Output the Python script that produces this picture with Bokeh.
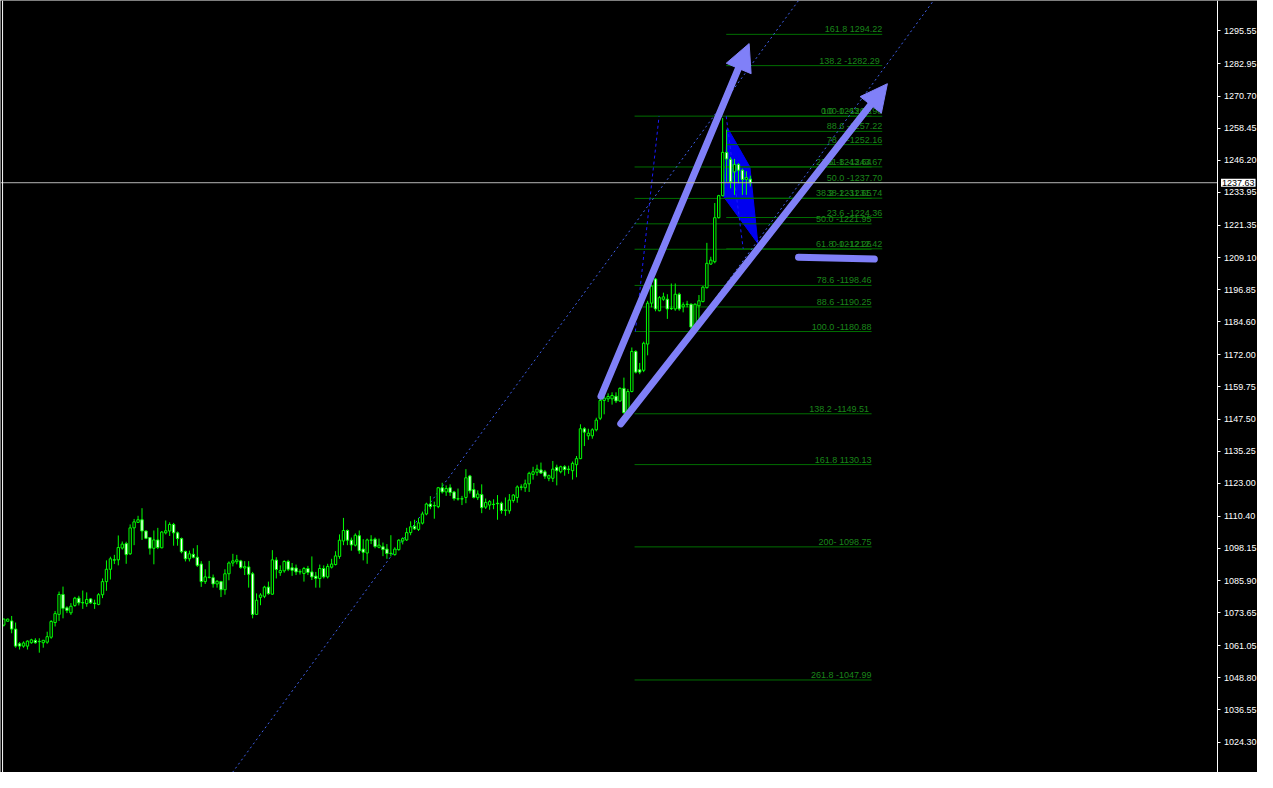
from bokeh.plotting import figure
from bokeh.models import (Range1d, FixedTicker, NumeralTickFormatter, Span, Label,
                          Arrow, NormalHead, ColumnDataSource)
from bokeh.core.properties import value
from bokeh.embed import file_html
from bokeh.resources import INLINE

# ---------------- price bars (OHLC) ----------------
open_ = [1068.9, 1070.4, 1070.5, 1067.4, 1061.8, 1060.9, 1060.9, 1062.2, 1063.1, 1062.7,
         1062.2, 1062.4, 1064.3, 1069.9, 1073.0, 1080.6, 1075.5, 1073.6, 1076.4, 1079.2,
         1077.5, 1077.1, 1078.9, 1077.3, 1076.8, 1080.5, 1085.5, 1090.2, 1093.8, 1093.8,
         1098.3, 1100.0, 1096.1, 1106.0, 1108.1, 1109.1, 1104.8, 1102.3, 1098.2, 1101.4,
         1098.4, 1104.1, 1104.8, 1107.3, 1104.1, 1101.9, 1097.0, 1094.2, 1095.9, 1094.8,
         1092.2, 1085.5, 1087.2, 1087.0, 1084.6, 1085.5, 1082.4, 1088.5, 1092.6, 1093.1,
         1093.4, 1090.7, 1091.1, 1088.5, 1073.0, 1079.5, 1079.9, 1083.4, 1080.7, 1093.7,
         1088.9, 1089.6, 1093.2, 1090.8, 1090.7, 1089.3, 1088.6, 1090.5, 1089.2, 1087.6,
         1086.7, 1090.5, 1087.3, 1091.0, 1092.0, 1095.1, 1101.0, 1105.0, 1101.3, 1099.4,
         1103.0, 1097.9, 1096.4, 1101.4, 1101.7, 1098.6, 1098.8, 1097.9, 1096.3, 1095.8,
         1097.7, 1101.0, 1101.4, 1104.2, 1106.6, 1105.4, 1107.8, 1111.3, 1115.1, 1114.5,
         1114.1, 1121.3, 1119.7, 1121.3, 1119.7, 1117.1, 1117.1, 1117.6, 1125.8, 1120.6,
         1117.5, 1118.7, 1113.9, 1114.7, 1115.0, 1115.4, 1115.4, 1112.8, 1112.5, 1116.4,
         1117.6, 1121.6, 1121.3, 1122.8, 1126.4, 1127.2, 1128.1, 1127.4, 1124.9, 1124.9,
         1129.1, 1127.4, 1129.3, 1128.4, 1127.8, 1130.1, 1132.4, 1143.8, 1141.1, 1141.1,
         1143.4, 1147.8, 1154.6, 1155.2, 1155.2, 1156.2, 1154.4, 1159.2, 1149.9, 1158.0,
         1173.3, 1166.3, 1166.1, 1176.1, 1191.7, 1200.9, 1188.8, 1193.2, 1193.2, 1189.7,
         1189.5, 1195.1, 1190.3, 1191.3, 1191.3, 1183.2, 1190.7, 1192.3, 1197.6, 1206.6,
         1207.5, 1224.3, 1232.7, 1249.2, 1246.5, 1241.8, 1244.6, 1242.4, 1238.9, 1239.0]

high = [1071.4, 1071.4, 1072.4, 1069.9, 1062.4, 1062.7, 1063.1, 1063.7, 1063.9, 1063.9,
        1063.3, 1066.4, 1070.8, 1074.3, 1081.7, 1083.6, 1076.1, 1077.3, 1079.7, 1080.1,
        1082.1, 1081.4, 1079.2, 1078.6, 1081.1, 1086.7, 1093.6, 1095.0, 1095.7, 1103.1,
        1100.8, 1100.7, 1107.3, 1109.4, 1110.6, 1113.5, 1105.0, 1102.5, 1105.0, 1106.0,
        1104.8, 1108.8, 1108.1, 1107.9, 1104.6, 1102.3, 1097.3, 1097.3, 1098.2, 1099.4,
        1093.3, 1090.2, 1093.4, 1088.2, 1086.1, 1085.8, 1090.2, 1093.2, 1096.1, 1095.7,
        1093.8, 1093.3, 1093.3, 1089.2, 1081.0, 1081.1, 1083.9, 1085.5, 1097.5, 1094.8,
        1091.7, 1093.6, 1093.8, 1092.6, 1092.0, 1090.2, 1091.1, 1091.5, 1095.1, 1089.2,
        1092.0, 1091.7, 1092.3, 1094.2, 1097.1, 1103.5, 1109.8, 1105.4, 1102.3, 1103.9,
        1105.0, 1101.7, 1101.9, 1103.2, 1102.3, 1101.9, 1100.4, 1099.8, 1103.2, 1098.6,
        1101.7, 1102.4, 1106.0, 1108.5, 1109.1, 1109.8, 1112.2, 1115.6, 1118.1, 1116.0,
        1121.6, 1123.2, 1122.2, 1122.6, 1120.1, 1121.0, 1118.2, 1128.4, 1126.2, 1123.1,
        1120.3, 1122.6, 1117.2, 1116.6, 1116.9, 1118.5, 1116.0, 1117.6, 1118.9, 1118.9,
        1122.2, 1122.6, 1124.4, 1127.4, 1129.3, 1130.1, 1130.9, 1128.1, 1126.3, 1131.5,
        1130.1, 1129.7, 1129.9, 1129.7, 1131.3, 1133.4, 1145.5, 1144.4, 1143.8, 1144.0,
        1148.0, 1156.5, 1157.7, 1157.3, 1157.7, 1157.7, 1159.6, 1163.3, 1159.0, 1174.8,
        1173.7, 1168.9, 1177.0, 1192.6, 1198.8, 1201.3, 1194.4, 1195.7, 1195.1, 1199.2,
        1199.2, 1195.7, 1192.0, 1192.6, 1191.6, 1191.6, 1194.8, 1198.2, 1214.7, 1209.4,
        1229.9, 1233.0, 1262.3, 1257.9, 1247.4, 1246.7, 1245.1, 1243.0, 1242.0, 1240.3]

low = [1068.4, 1070.2, 1065.8, 1060.3, 1059.6, 1060.3, 1059.6, 1061.8, 1061.8, 1058.4,
       1060.3, 1061.8, 1063.7, 1068.4, 1070.5, 1071.5, 1073.5, 1072.8, 1075.9, 1076.4,
       1075.1, 1075.9, 1077.0, 1075.1, 1076.5, 1079.2, 1082.0, 1086.3, 1092.2, 1091.7,
       1097.7, 1092.3, 1095.7, 1099.4, 1107.9, 1101.4, 1101.7, 1095.8, 1092.1, 1097.9,
       1098.2, 1103.5, 1102.9, 1099.2, 1099.2, 1096.3, 1093.2, 1093.2, 1094.4, 1091.1,
       1083.5, 1084.6, 1086.7, 1083.2, 1083.2, 1079.6, 1080.5, 1086.0, 1091.3, 1092.1,
       1090.4, 1088.0, 1083.2, 1071.5, 1072.8, 1076.5, 1079.2, 1080.5, 1080.5, 1086.7,
       1087.7, 1088.9, 1089.5, 1087.7, 1088.0, 1088.2, 1085.5, 1088.0, 1086.1, 1083.2,
       1083.2, 1086.7, 1086.7, 1090.5, 1091.7, 1094.2, 1099.4, 1099.4, 1097.3, 1098.9,
       1096.1, 1093.6, 1092.3, 1099.8, 1098.2, 1098.2, 1095.2, 1094.2, 1095.1, 1095.4,
       1097.3, 1099.7, 1101.0, 1103.2, 1105.2, 1104.8, 1107.3, 1110.8, 1113.1, 1109.5,
       1113.5, 1119.1, 1118.2, 1118.2, 1116.4, 1116.4, 1114.7, 1115.4, 1119.1, 1117.2,
       1116.6, 1111.6, 1113.2, 1112.9, 1113.1, 1109.1, 1111.4, 1110.6, 1111.4, 1115.6,
       1115.6, 1120.3, 1119.7, 1119.7, 1124.4, 1125.9, 1126.6, 1124.7, 1123.8, 1123.5,
       1122.2, 1126.8, 1125.9, 1126.6, 1124.4, 1125.3, 1132.2, 1137.2, 1139.6, 1140.0,
       1142.8, 1147.1, 1149.3, 1154.0, 1153.0, 1153.6, 1154.0, 1149.6, 1149.6, 1157.7,
       1164.9, 1164.6, 1165.4, 1171.8, 1190.1, 1188.6, 1188.6, 1192.6, 1185.7, 1189.1,
       1188.8, 1188.8, 1188.2, 1190.1, 1181.4, 1182.0, 1185.7, 1192.0, 1197.3, 1206.3,
       1206.9, 1224.0, 1232.4, 1238.0, 1235.5, 1233.0, 1237.4, 1233.0, 1233.0, 1236.2]

close = [1071.2, 1071.2, 1067.4, 1060.9, 1060.9, 1062.1, 1062.8, 1063.3, 1062.2, 1062.6,
         1063.1, 1064.5, 1070.3, 1073.3, 1080.6, 1075.3, 1074.5, 1076.1, 1079.2, 1077.4,
         1077.4, 1078.7, 1077.4, 1077.1, 1080.5, 1085.5, 1090.2, 1094.2, 1093.7, 1098.5,
         1099.8, 1095.8, 1106.0, 1108.3, 1109.1, 1104.8, 1102.0, 1098.2, 1101.4, 1098.5,
         1104.4, 1104.9, 1107.3, 1104.1, 1101.9, 1096.9, 1094.2, 1096.1, 1094.8, 1091.7,
         1085.5, 1087.3, 1087.1, 1084.6, 1085.6, 1082.4, 1088.5, 1092.6, 1093.4, 1093.8,
         1090.9, 1091.2, 1088.3, 1073.0, 1078.4, 1080.4, 1083.4, 1080.9, 1093.8, 1090.1,
         1089.7, 1093.2, 1090.2, 1089.8, 1089.2, 1089.2, 1090.5, 1089.0, 1087.3, 1086.7,
         1090.5, 1087.3, 1091.3, 1092.2, 1095.3, 1101.3, 1105.0, 1101.3, 1099.5, 1103.2,
         1097.3, 1096.7, 1101.4, 1101.3, 1098.9, 1099.4, 1097.7, 1096.2, 1096.2, 1097.9,
         1101.3, 1101.9, 1104.2, 1106.4, 1105.6, 1107.9, 1111.3, 1115.1, 1114.1, 1114.4,
         1121.3, 1119.7, 1121.0, 1119.5, 1117.2, 1117.0, 1117.0, 1125.1, 1120.1, 1117.6,
         1118.9, 1113.7, 1115.7, 1116.0, 1114.9, 1115.2, 1112.6, 1112.7, 1116.6, 1118.5,
         1121.6, 1121.5, 1122.8, 1126.8, 1127.4, 1128.4, 1126.9, 1125.7, 1125.9, 1128.4,
         1127.8, 1129.3, 1128.2, 1128.3, 1130.6, 1132.4, 1143.8, 1142.5, 1142.1, 1143.4,
         1147.1, 1154.6, 1155.5, 1156.1, 1156.5, 1154.4, 1159.2, 1149.9, 1158.0, 1173.3,
         1165.4, 1165.4, 1176.4, 1191.7, 1198.2, 1189.5, 1193.8, 1194.1, 1189.5, 1189.6,
         1195.1, 1189.5, 1191.1, 1191.2, 1182.6, 1191.3, 1192.6, 1197.8, 1206.9, 1208.1,
         1224.3, 1232.7, 1249.2, 1246.7, 1238.0, 1244.6, 1242.4, 1238.9, 1239.6, 1237.63]

last_price = 1237.63

# price scale ticks (right axis)
ytick_values = [1295.55, 1282.95, 1270.70, 1258.45, 1246.20, 1233.95, 1221.35, 1209.10,
                1196.85, 1184.60, 1172.00, 1159.75, 1147.50, 1135.25, 1123.00, 1110.40,
                1098.15, 1085.90, 1073.65, 1061.05, 1048.80, 1036.55, 1024.30]

# visible window (bar index / price) and where the price scale sits
bar_view = (-0.825, 317.4)
price_view = (1012.7, 1307.13)
scale_bar = 307.4

# ---------------- Fibonacci objects ----------------
fibA_levels = [0.0, 23.6, 38.2, 50.0, 61.8, 78.6, 88.6, 100.0, 138.2, 161.8, 200.0, 261.8]
fibA_prices = [1263.03, 1243.64, 1231.65, 1221.95, 1212.26, 1198.46, 1190.25, 1180.88,
               1149.51, 1130.13, 1098.75, 1047.99]
fibA_labels = ["0.0 -1263.03", "23.6 -1243.64", "38.2 -1231.65", "50.0 -1221.95",
               "61.8 -1212.26", "78.6 -1198.46", "88.6 -1190.25", "100.0 -1180.88",
               "138.2  -1149.51", "161.8 1130.13", "200- 1098.75", "261.8 -1047.99"]
fibA_bar_start, fibA_bar_end = 159.7, 219.7

fibB_levels = [0.0, 23.6, 38.2, 50.0, 61.8, 78.6, 88.6, 100.0, 138.2, 161.8]
fibB_prices = [1212.42, 1224.36, 1231.74, 1237.70, 1243.67, 1252.16, 1257.22, 1262.98,
               1282.29, 1294.22]
fibB_labels = ["0.0 -1212.42", "23.6 -1224.36", "38.2 -1231.74", "50.0 -1237.70",
               "61.8 -1243.67", "78.6 -1252.16", "88.6 -1257.22", "100.0 -1262.98",
               "138.2  -1282.29", "161.8 1294.22"]
fibB_bar_start, fibB_bar_end = 182.9, 222.4

# anchor lines of the fib objects (bar index, price)
fibA_anchor_bar = [159.9, 165.9]
fibA_anchor_price = [1180.88, 1263.03]
fibB_anchor_bar = [182.9, 187.2]
fibB_anchor_price = [1262.98, 1212.42]

# channel trend lines (bar index, price)
trend1_bar = [57.9, 201.2]
trend1_price = [1012.7, 1307.1]
trend2_bar = [174.2, 235.4]
trend2_price = [1181.2, 1307.13]

# filled triangle object
tri_bar = [183.2, 188.9, 190.9, 182.2]
tri_price = [1258.6, 1243.6, 1214.5, 1232.4]

# hand-drawn arrows (shaft start, shaft end, head tip) and flat stroke
arrow1 = dict(bar0=151.2, p0=1156.2, bar_s=186.7, p_s=1283.8, bar1=188.7, p1=1290.7)
arrow2 = dict(bar0=156.2, p0=1145.7, bar_s=220.6, p_s=1269.5, bar1=223.7, p1=1275.4)
flat_bar = [201.2, 220.4]
flat_price = [1209.2, 1208.5]

# ---------------- figure ----------------
GREEN = "#00ff00"
FIB_LINE = "#006e00"
FIB_TEXT = "#1a861a"
PURPLE = "#8080f8"
FIG_W, FIG_H = 1257, 772

p = figure(width=FIG_W, height=FIG_H, output_backend="svg", toolbar_location=None,
           x_range=Range1d(*bar_view), y_range=Range1d(*price_view),
           x_axis_location=None, y_axis_location="right",
           background_fill_color="black", border_fill_color="black",
           min_border_left=0, min_border_top=0, min_border_bottom=0, min_border_right=0)
p.grid.visible = False
p.outline_line_color = None

yax = p.yaxis[0]
yax.fixed_location = scale_bar
yax.ticker = FixedTicker(ticks=ytick_values)
yax.formatter = NumeralTickFormatter(format="0.00")
yax.axis_line_color = "white"
yax.major_tick_line_color = "white"
yax.minor_tick_line_color = None
yax.major_tick_in = 0
yax.major_tick_out = 3
yax.major_label_standoff = 3
yax.major_label_text_color = "white"
yax.major_label_text_font = "Liberation Sans"
yax.major_label_text_font_size = "9px"

# left chart border
p.add_layout(Span(location=-0.3, dimension="height", line_color="white", line_width=1))

# triangle object
p.patch(tri_bar, tri_price, fill_color="#0000f0", line_color="#0000f0", line_width=1)

# fib level lines + labels
p.segment(x0=[fibA_bar_start] * len(fibA_prices), x1=[fibA_bar_end] * len(fibA_prices),
          y0=fibA_prices, y1=fibA_prices, line_color=FIB_LINE, line_width=1)
p.segment(x0=[fibB_bar_start] * len(fibB_prices), x1=[fibB_bar_end] * len(fibB_prices),
          y0=fibB_prices, y1=fibB_prices, line_color=FIB_LINE, line_width=1)
p.text(x=[fibA_bar_end] * len(fibA_prices), y=fibA_prices, text=fibA_labels,
       text_align="right", text_baseline="bottom", text_color=FIB_TEXT,
       text_font=value("Liberation Sans"), text_font_size="9px")
p.text(x=[fibB_bar_end] * len(fibB_prices), y=fibB_prices, text=fibB_labels,
       text_align="right", text_baseline="bottom", text_color=FIB_TEXT,
       text_font=value("Liberation Sans"), text_font_size="9px")

# dashed lines
p.line(fibA_anchor_bar, fibA_anchor_price, line_color="#1a1aff", line_dash="3 3", line_width=1)
p.line(fibB_anchor_bar, fibB_anchor_price, line_color="#1a1aff", line_dash="3 3", line_width=1)
p.line(trend1_bar, trend1_price, line_color="#3f5fe8", line_dash="2 3", line_width=1)
p.line(trend2_bar, trend2_price, line_color="#3f5fe8", line_dash="2 3", line_width=1)

# candles
bars = list(range(len(close)))
src = ColumnDataSource(dict(
    x=bars, high=high, low=low,
    top=[max(o, c) for o, c in zip(open_, close)],
    bottom=[min(o, c) for o, c in zip(open_, close)],
    fill=["black" if c >= o else "white" for o, c in zip(open_, close)],
))
p.segment(x0="x", x1="x", y0="low", y1="high", source=src, line_color=GREEN, line_width=1)
p.vbar(x="x", top="top", bottom="bottom", width=0.6, source=src,
       fill_color="fill", line_color=GREEN, line_width=1)

# purple strokes
for a in (arrow1, arrow2):
    p.line([a["bar0"], a["bar_s"]], [a["p0"], a["p_s"]], line_color=PURPLE,
           line_width=7, line_cap="round")
    p.add_layout(Arrow(x_start=a["bar0"], y_start=a["p0"], x_end=a["bar1"], y_end=a["p1"],
                       line_alpha=0, line_width=1,
                       end=NormalHead(size=27, fill_color=PURPLE, line_color=PURPLE,
                                      line_width=1)))
p.line(flat_bar, flat_price, line_color=PURPLE, line_width=7, line_cap="round")

# current price line (up to the scale) + price tag on the scale
p.line([bar_view[0], scale_bar], [last_price, last_price], line_color="#b8b8b8", line_width=1)
p.add_layout(Label(x=scale_bar, y=last_price, x_offset=3,
                   text=f"{last_price:.2f}", text_baseline="middle", text_color="black",
                   text_font="Liberation Sans", text_font_size="9px",
                   background_fill_color="white", padding=1))

html = file_html(p, INLINE)
html = html.replace("<body>", '<body style="background-color:#000000;">', 1)
open("out.html", "w").write(html)
